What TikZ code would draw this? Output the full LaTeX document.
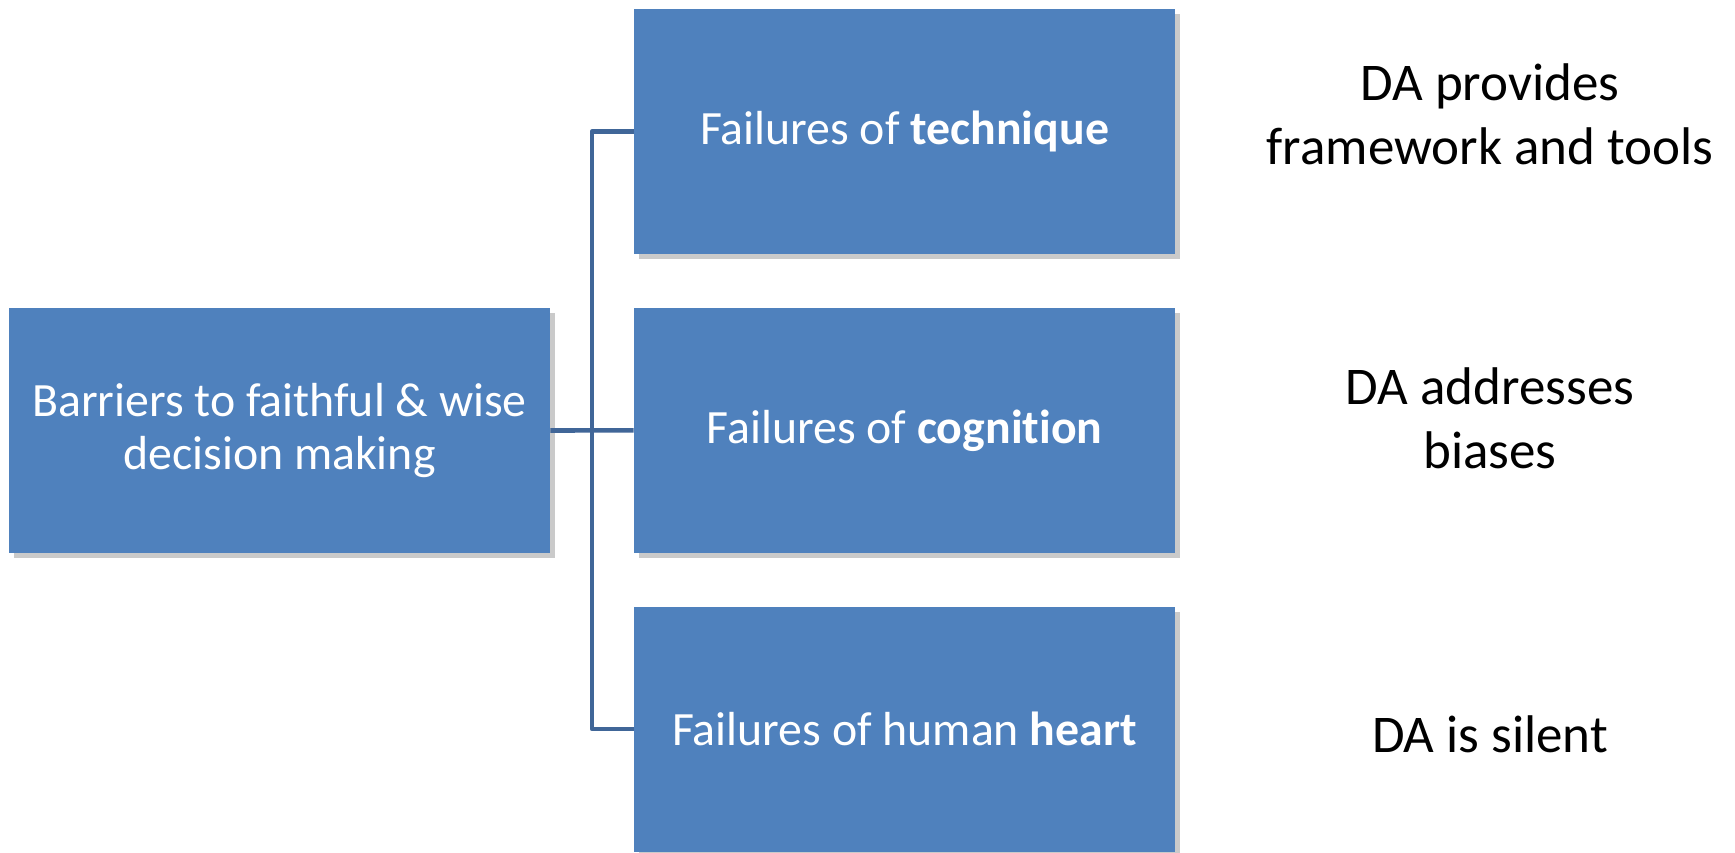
\documentclass[tikz,border=0pt]{standalone}
\usepackage{fontspec}
\setmainfont{Carlito}[Ligatures=NoCommon]
\usetikzlibrary{positioning, shadows}
\definecolor{boxblue}{RGB}{79,129,189}
\definecolor{linkblue}{RGB}{64,102,152}
\tikzset{
  barrier/.style={
    rectangle,
    fill=boxblue,
    draw=none,
    minimum width=270.5pt,
    minimum height=122.5pt,
    inner sep=2pt,
    align=center,
    text=white,
    font=\fontsize{23.9}{26.5}\selectfont,
    drop shadow={shadow xshift=2.5pt, shadow yshift=-2.5pt, fill=black!35, opacity=0.6}
  },
  remark/.style={
    align=center,
    text=black,
    font=\fontsize{26.5}{32}\selectfont
  },
  link/.style={
    draw=linkblue,
    line width=2.3pt,
    line join=round
  }
}

\begin{document}
\begin{tikzpicture}[x=0.5pt, y=-0.5pt]
\useasboundingbox (0,0) rectangle (1735,852);

% nodes
\node[barrier] (root) at (279.5,430.5) {Barriers to faithful \& wise\\decision making};

\node[barrier] (tech) at (904.5,131.5) {Failures of \textbf{technique}};
\node[barrier, below = 26.5pt of tech] (cog) {Failures of \textbf{cognition}};
\node[barrier, below = 26.5pt of cog] (heart) {Failures of human \textbf{heart}};

\node[remark] (tools) at (1490,114) {DA provides\\framework and tools};
\node[remark] (bias) at (1490,418) {DA addresses\\biases};
\node[remark] (silent) at (1490,734) {DA is silent};

% edges
\coordinate (trunk) at (592,0);
\draw [link] (root.east) -- (cog.west);
\draw [link] (tech.west) -- (trunk |- tech.west) -- (trunk |- heart.west) -- (heart.west);

\end{tikzpicture}
\end{document}
